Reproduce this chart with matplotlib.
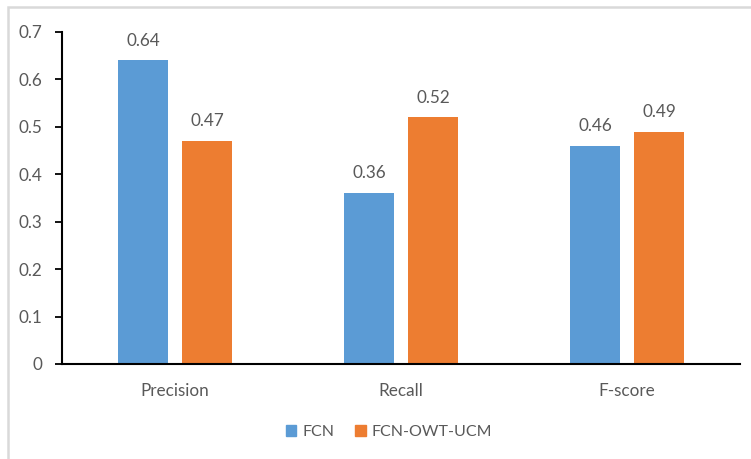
import matplotlib
matplotlib.use("Agg")
import matplotlib.pyplot as plt
from matplotlib.patches import Rectangle, Patch
import numpy as np

categories = ["Precision", "Recall", "F-score"]
series_names = ["FCN", "FCN-OWT-UCM"]
fcn_values = [0.64, 0.36, 0.46]
owt_values = [0.47, 0.52, 0.49]
y_ticks = [0, 0.1, 0.2, 0.3, 0.4, 0.5, 0.6, 0.7]

blue = "#5b9bd5"
orange = "#ed7d31"
text_gray = "#595959"

plt.rcParams["font.family"] = ["Lato", "DejaVu Sans"]

W, H = 751, 459
fig = plt.figure(figsize=(W / 100, H / 100), dpi=100)

# light outer frame of the chart area (runs off the right and bottom edges)
fig.patches.append(Rectangle((8 / W, -0.2), 1.2, 1.2 - 7 / H, transform=fig.transFigure,
                             fill=False, edgecolor="#d9d9d9", linewidth=1.8))

ax = fig.add_axes([62 / W, (H - 364) / H, (740 - 62) / W, (364 - 32) / H])

x = np.arange(len(categories))
bw = 0.221
gap = 0.062
off = (bw + gap) / 2
b1 = ax.bar(x - off, fcn_values, bw, color=blue, label=series_names[0])
b2 = ax.bar(x + off, owt_values, bw, color=orange, label=series_names[1])

fs = 12.3
for bars, vals in ((b1, fcn_values), (b2, owt_values)):
    for rect, v in zip(bars, vals):
        ax.text(rect.get_x() + rect.get_width() / 2, v + 0.025, f"{v:.2f}",
                ha="center", va="bottom", fontsize=fs, color=text_gray)

ax.set_xlim(-0.5, len(categories) - 0.5)
ax.set_ylim(0, 0.7)
ax.set_yticks(y_ticks)
ax.set_yticklabels([f"{t:g}" for t in y_ticks])
ax.set_xticks(x)
ax.set_xticklabels(categories)
ax.tick_params(axis="x", length=0, pad=14, labelsize=fs, labelcolor=text_gray)
ax.tick_params(axis="y", length=5, width=1.3, pad=9, labelsize=fs, labelcolor=text_gray)

for side in ("top", "right"):
    ax.spines[side].set_visible(False)
for side in ("left", "bottom"):
    ax.spines[side].set_linewidth(1.5)
    ax.spines[side].set_color("black")

handles = [Patch(color=blue), Patch(color=orange)]
fig.legend(handles, series_names, loc="center", bbox_to_anchor=(389 / W, 1 - 432 / H),
           ncol=2, frameon=False, fontsize=11.5, labelcolor=text_gray,
           handlelength=0.65, handleheight=0.65, handletextpad=0.4, columnspacing=1.3)

fig.savefig("out.png", dpi=100)
